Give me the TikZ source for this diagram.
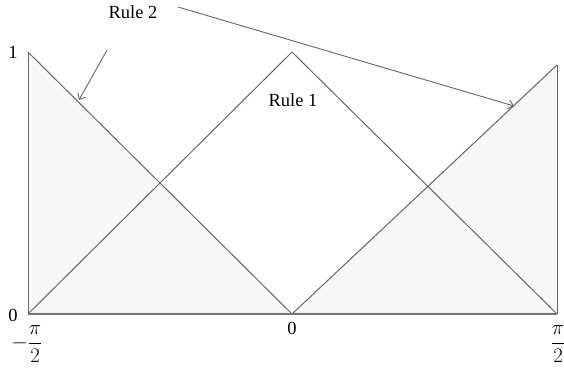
\documentclass[tikz,border=0pt]{standalone}
\usepackage{fontspec}
\setmainfont{Liberation Serif}
\usetikzlibrary{arrows.meta}
\begin{document}
\begin{tikzpicture}[x=1pt,y=-1pt,
  edge/.style={draw=black!60,line width=1pt},
  region/.style={fill=black!3},
  lbl/.style={font=\fontsize{18.5}{20}\selectfont,inner sep=0pt},
  frac/.style={font=\fontsize{22}{24}\selectfont,inner sep=0pt},
  pointer/.style={draw=black!60,line width=0.9pt,-{Straight Barb[length=5pt,width=9pt]}}]
\useasboundingbox (0,0) rectangle (564,372);
% corner coordinates
\coordinate (TL) at (28,52);
\coordinate (BL) at (28,314);
\coordinate (BM) at (292,314);
\coordinate (PK) at (292,52);
\coordinate (TR) at (557,65);
\coordinate (BR) at (557,314);
% fills
\path[region] (TL) -- (BL) -- (BM) -- cycle;
\path[region] (BM) -- (TR) -- (BR) -- cycle;
% lines
\draw[edge] (TL) -- (BL);
\draw[edge] (TL) -- (BM);
\draw[edge] (BL) -- (PK);
\draw[edge] (PK) -- (BR);
\draw[edge] (BM) -- (TR);
\draw[edge] (TR) -- (BR);
\draw[edge,line width=1.2pt,draw=black!55] (BL) -- (BR);
% labels
\node[lbl] (one) at (13,52) {1};
\node[lbl] (zl) at (13,315) {0};
\node[lbl] (zm) at (292,328) {0};
\node[frac] (mpi) at (27,344) {$\displaystyle -\frac{\pi}{2}$};
\node[frac] (ppi) at (558,344) {$\displaystyle \frac{\pi}{2}$};
\node[lbl] (r1) at (293,100) {Rule 1};
\node[lbl] (r2) at (133,12) {Rule 2};
% pointers
\coordinate (a1s) at (107,50);
\coordinate (a1e) at (79,100);
\coordinate (a2s) at (178,7);
\coordinate (a2e) at (514,106);
\draw[pointer] (a1s) -- (a1e);
\draw[pointer] (a2s) -- (a2e);
\end{tikzpicture}
\end{document}
